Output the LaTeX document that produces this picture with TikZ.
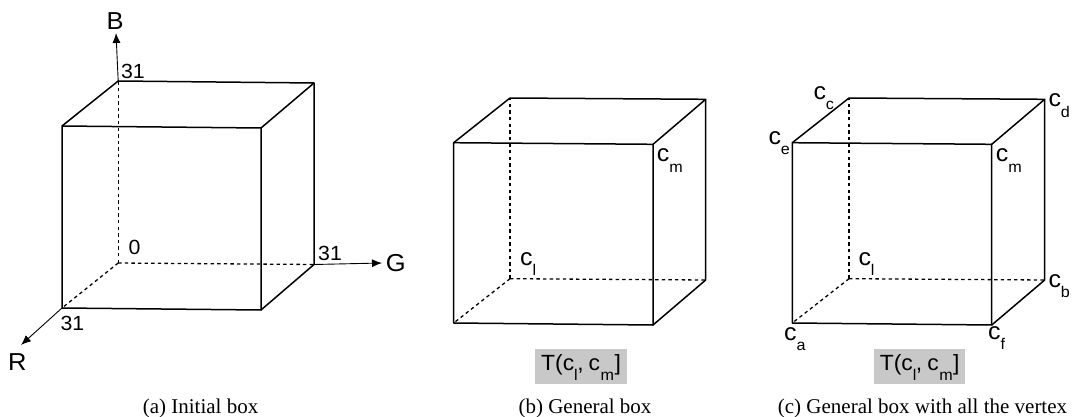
\documentclass[tikz,border=0pt]{standalone}
\usepackage{fontspec}
\setmainfont{Liberation Serif}
\setsansfont[FakeStretch=1.04]{Liberation Sans}
\usepackage{xcolor}
\usetikzlibrary{arrows.meta,positioning}
\definecolor{tagfill}{HTML}{C8C8C8}
\newcommand{\subdrop}[1]{\raisebox{-10.5pt}{\fontsize{15.5}{15.5}\selectfont #1}}
\newcommand{\vlab}[1]{c\subdrop{#1}}
\newcommand{\tlab}{T(c\subdrop{l}\kern-0.5pt,\kern5pt c\kern0.5pt\subdrop{m}\kern0.5pt]}
\begin{document}
\begin{tikzpicture}[x=1pt,y=-1pt,
  font=\sffamily\fontsize{24.5}{24.5}\selectfont,
  edge/.style={line width=1.5pt,black,line join=round},
  hid/.style={line width=1.3pt,black,dash pattern=on 3.4pt off 3.2pt},
  ax/.style={-{Latex[length=10pt,width=8pt]},line width=0.9pt,black},
  num/.style={font=\sffamily\fontsize{20.5}{20.5}\selectfont,inner sep=0pt,anchor=base},
  vt/.style={font=\sffamily\fontsize{24}{24}\selectfont,inner sep=0pt,anchor=base west},
  lett/.style={inner sep=0pt,anchor=base},
  tag/.style={fill=tagfill,font=\sffamily\fontsize{22}{22}\selectfont,minimum width=91.5pt,inner sep=0pt,text height=21pt,text depth=13.5pt},
  capt/.style={font=\rmfamily\fontsize{21}{21}\selectfont,inner sep=0pt,anchor=base}]
\useasboundingbox (0,0) rectangle (1073,417);
% initial box
\coordinate (aftl) at (62,126);\coordinate (aftr) at (261,128);
\coordinate (afbl) at (62,308);\coordinate (afbr) at (261,310);
\coordinate (abtl) at (118.2,81);\coordinate (abtr) at (314,83);
\coordinate (abbl) at (118.2,263);\coordinate (abbr) at (314,264.5);
% general box
\coordinate (bftl) at (453.7,142.7);\coordinate (bftr) at (653,144.3);
\coordinate (bfbl) at (453.7,323);\coordinate (bfbr) at (653,325);
\coordinate (bbtl) at (510,98);\coordinate (bbtr) at (705.7,99.3);
\coordinate (bbbl) at (510,278.7);\coordinate (bbbr) at (705.7,280);
% box with all the vertex
\coordinate (cftl) at (792.3,142.7);\coordinate (cftr) at (991.7,144.3);
\coordinate (cfbl) at (792.3,323);\coordinate (cfbr) at (991.7,325);
\coordinate (cbtl) at (849,98);\coordinate (cbtr) at (1044.7,99.3);
\coordinate (cbbl) at (849,278.7);\coordinate (cbbr) at (1044.7,280);
\foreach \q in {a,b,c}{
  \draw[hid](\q bbl)--(\q btl);\draw[hid](\q bbl)--(\q bbr);\draw[hid](\q bbl)--(\q fbl);
  \draw[edge](\q ftl)--(\q ftr)--(\q fbr)--(\q fbl)--cycle;
  \draw[edge](\q ftl)--(\q btl)--(\q btr)--(\q ftr);
  \draw[edge](\q btr)--(\q bbr)--(\q fbr);
}
% axes
\coordinate (btip) at (116,33);\coordinate (rtip) at (21,345);\coordinate (gtip) at (382,263);
\draw[ax](abtl)--(btip);\draw[ax](afbl)--(rtip);\draw[ax](abbr)--(gtip);
\node[lett](blab) at (115,30){B};
\node[lett](rlab) at (17.3,370){R};
\node[lett](glab) at (395.7,271.7){G};
\node[num](nb) at (133,78.5){31};
\node[num](nz) at (134.5,254.5){0};
\node[num](ng) at (330,260){31};
\node[num](nr) at (72.5,330.5){31};
% vertex labels
\node[vt](bcm) at (656.7,161.7){\vlab{m}};
\node[vt](bcl) at (520,265){\vlab{l}};
\node[vt](ccm) at (995.7,161.7){\vlab{m}};
\node[vt](ccl) at (858.3,265){\vlab{l}};
\node[vt](cca) at (784,340){\vlab{a}};
\node[vt](ccb) at (1048.3,287.3){\vlab{b}};
\node[vt](ccc) at (813.3,99.3){\vlab{c}};
\node[vt](ccd) at (1048.3,106.7){\vlab{d}};
\node[vt](cce) at (768.3,144.3){\vlab{e}};
\node[vt](ccf) at (988,339.3){\vlab{f}};
\node[tag](btag) at (581,366.3){\tlab};
\node[tag](ctag) at (919.7,366.3){\tlab};
% captions
\node[capt](acap) at (200.5,413.5){(a) Initial box};
\node[capt](bcap) at (585,413.5){(b) General box};
\node[capt](ccap) at (922.5,413.5){(c) General box with all the vertex};
\end{tikzpicture}
\end{document}
